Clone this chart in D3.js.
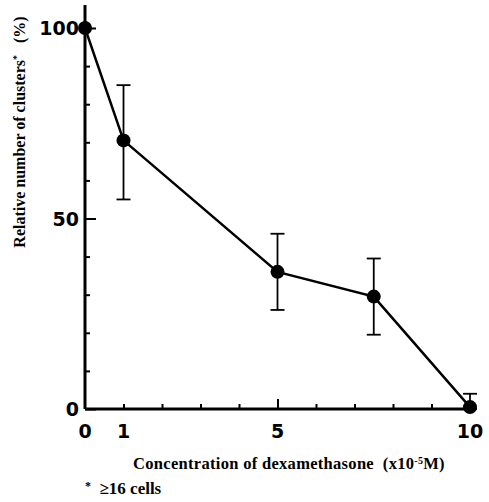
<!DOCTYPE html>
<html>
<head>
<meta charset="utf-8">
<script src="https://cdn.jsdelivr.net/npm/d3@7"></script>
<style>
body { margin: 0; background: #fff; }
svg text { fill: #000; }
</style>
</head>
<body>
<svg id="chart" width="489" height="502"></svg>
<script>
// concentration (x10^-5 M) and relative number of clusters (%)
var conc = [0, 1, 5, 7.5, 10];
var relClusters = [100, 70.5, 36, 29.5, 0.5];
var errHigh = [100, 85, 46, 39.5, 4];
var errLow = [100, 55, 26, 19.5, 0];
var xTickLabels = [0, 1, 5, 10];
var yTickLabels = [0, 50, 100];

var svg = d3.select('#chart');

var x = d3.scaleLinear().domain([0, 10]).range([85, 470]);
var y = d3.scaleLinear().domain([0, 100]).range([409, 28]);

// axes lines
svg.append('line')
	.attr('x1', x(0)).attr('x2', x(0))
	.attr('y1', 5).attr('y2', y(0))
	.attr('stroke', '#000').attr('stroke-width', 3);
svg.append('line')
	.attr('x1', x(0)).attr('x2', x(10))
	.attr('y1', y(0)).attr('y2', y(0))
	.attr('stroke', '#000').attr('stroke-width', 3);

// y ticks, pointing inward
var yAxis = d3.axisRight(y)
	.tickValues(d3.range(0, 101, 10))
	.tickSize(5)
	.tickFormat('');
var gy = svg.append('g').attr('transform', 'translate(' + x(0) + ',0)').call(yAxis);
gy.select('.domain').remove();
gy.selectAll('.tick line')
	.attr('stroke-width', 2)
	.attr('x2', function(d) { return (d % 50 === 0) ? 11 : 5; });

// x ticks, pointing up
var xAxis = d3.axisTop(x)
	.tickValues(d3.range(1, 10, 1))
	.tickSize(5)
	.tickFormat('');
var gx = svg.append('g').attr('transform', 'translate(0,' + y(0) + ')').call(xAxis);
gx.select('.domain').remove();
gx.selectAll('.tick line')
	.attr('stroke-width', 2)
	.attr('y2', function(d) { return d === 5 ? -10 : -5; });

// tick labels
svg.selectAll('.ylab').data(yTickLabels).enter().append('text')
	.attr('class', 'ylab')
	.attr('x', 79)
	.attr('y', function(d) { return y(d) + 7; })
	.attr('text-anchor', 'end')
	.style('font', 'bold 19px "DejaVu Sans", sans-serif')
	.text(function(d) { return d; });

svg.selectAll('.xlab').data(xTickLabels).enter().append('text')
	.attr('class', 'xlab')
	.attr('x', function(d) { return x(d); })
	.attr('y', 438)
	.attr('text-anchor', 'middle')
	.style('font', 'bold 19px "DejaVu Sans", sans-serif')
	.text(function(d) { return d; });

// error bars
var pts = conc.map(function(c, i) {
	return { c: c, v: relClusters[i], hi: errHigh[i], lo: errLow[i] };
});
var eb = svg.selectAll('.eb').data(pts.filter(function(d) { return d.hi !== d.lo; }))
	.enter().append('g').attr('class', 'eb')
	.attr('stroke', '#000').attr('stroke-width', 1.8);
eb.append('line')
	.attr('x1', function(d) { return x(d.c); }).attr('x2', function(d) { return x(d.c); })
	.attr('y1', function(d) { return y(d.hi); }).attr('y2', function(d) { return y(d.lo); });
eb.append('line')
	.attr('x1', function(d) { return x(d.c) - 7; }).attr('x2', function(d) { return x(d.c) + 7; })
	.attr('y1', function(d) { return y(d.hi); }).attr('y2', function(d) { return y(d.hi); });
eb.append('line')
	.attr('x1', function(d) { return x(d.c) - 7; }).attr('x2', function(d) { return x(d.c) + 7; })
	.attr('y1', function(d) { return y(d.lo); }).attr('y2', function(d) { return y(d.lo); });

// line + markers
var line = d3.line()
	.x(function(d) { return x(d.c); })
	.y(function(d) { return y(d.v); });
svg.append('path').datum(pts)
	.attr('d', line)
	.attr('fill', 'none')
	.attr('stroke', '#000')
	.attr('stroke-width', 2.5);
svg.selectAll('.pt').data(pts).enter().append('circle')
	.attr('class', 'pt')
	.attr('cx', function(d) { return x(d.c); })
	.attr('cy', function(d) { return y(d.v); })
	.attr('r', 7)
	.attr('fill', '#000');

// titles
svg.append('text')
	.attr('transform', 'translate(25,132) rotate(-90)')
	.attr('text-anchor', 'middle')
	.style('font', 'bold 16px "Liberation Serif", "Times New Roman", serif')
	.html('Relative number of clusters<tspan dy="-5" font-size="10">*</tspan><tspan dy="5" xml:space="preserve">   (%)</tspan>');

svg.append('text')
	.attr('x', 289).attr('y', 469)
	.attr('text-anchor', 'middle')
	.style('font', 'bold 16.5px "Liberation Serif", "Times New Roman", serif')
	.style('letter-spacing', '0.3px')
	.style('white-space', 'pre')
	.html('Concentration of dexamethasone  (x10<tspan dy="-5" font-size="10">-5</tspan><tspan dy="5">M)</tspan>');

svg.append('text')
	.attr('x', 85).attr('y', 494)
	.style('font', 'bold 17px "Liberation Serif", "Times New Roman", serif')
	.style('white-space', 'pre')
	.html('<tspan dy="-4" font-size="12">*</tspan><tspan dy="4">  ≥16 cells</tspan>');
</script>
</body>
</html>
